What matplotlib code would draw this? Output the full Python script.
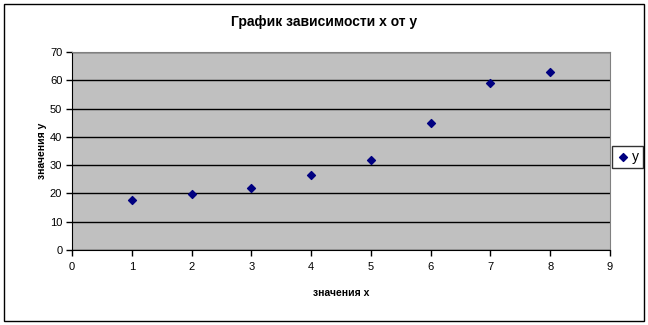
import matplotlib.pyplot as plt
from matplotlib.patches import Rectangle

x = [1, 2, 3, 4, 5, 6, 7, 8]
y = [17.7, 19.8, 21.9, 26.6, 31.8, 44.9, 59, 62.9]

plt.rcParams['font.family'] = ['Liberation Sans', 'DejaVu Sans']

fig = plt.figure(figsize=(6.48, 3.25), dpi=100)
ax = fig.add_axes([72 / 648, 75 / 325, 538 / 648, 198 / 325])
ax.set_facecolor('#c0c0c0')

ax.scatter(x, y, marker='D', s=16, color='#000080', zorder=3, label='y')

ax.set_xlim(0, 9)
ax.set_ylim(0, 70)
ax.set_xticks(range(0, 10))
ax.set_yticks(range(0, 80, 10))
ax.yaxis.grid(True, color='black', linewidth=1)
ax.set_axisbelow(True)
ax.tick_params(direction='out', length=4, width=1, labelsize=8)
ax.tick_params(axis='y', pad=3)
ax.tick_params(axis='x', pad=5)
for s in ['top', 'right']:
    ax.spines[s].set_color('#808080')
for s in ['left', 'bottom']:
    ax.spines[s].set_color('black')

ax.set_xlabel('значения х', fontsize=7.5, fontweight='bold', labelpad=11)
ax.set_ylabel('значения у', fontsize=7.5, fontweight='bold', labelpad=2)
fig.text(0.5, 1 - 22 / 325, 'График зависимости х от у', ha='center', va='center',
         fontsize=10, fontweight='bold')

leg = ax.legend(loc='center left', bbox_to_anchor=(612 / 648, 1 - 157 / 325),
                bbox_transform=fig.transFigure, frameon=True, fancybox=False,
                fontsize=10, handletextpad=0.1, borderpad=0.3, handlelength=1,
                borderaxespad=0)
leg.get_frame().set_edgecolor('black')
leg.get_frame().set_linewidth(1)

fig.patches.append(Rectangle((4 / 648, 4 / 325), 640 / 648, 317 / 325, fill=False,
                             edgecolor='black', linewidth=1, transform=fig.transFigure))

fig.savefig('out.png', dpi=100)
